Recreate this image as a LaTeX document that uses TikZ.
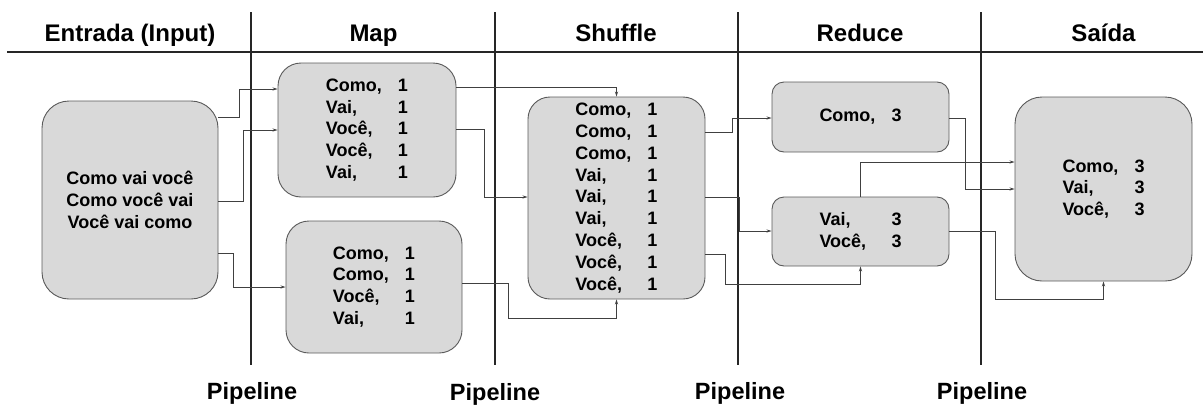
\documentclass[tikz,border=0pt]{standalone}
\usepackage{fontspec}
\setmainfont{Liberation Sans}
\usetikzlibrary{arrows.meta}
\definecolor{boxgray}{HTML}{D9D9D9}
\definecolor{edgegray}{HTML}{5A5A5A}
\newcommand{\kv}[2]{\makebox[72pt][l]{#1}#2}
\tikzset{
  box/.style={draw=edgegray, line width=0.9pt, fill=boxgray, inner sep=0pt,
    font=\fontsize{18}{21.8}\selectfont\bfseries, align=center},
  hdr/.style={anchor=base, inner sep=0pt, font=\fontsize{24}{28}\selectfont\bfseries},
  pipe/.style={anchor=base, inner sep=0pt, font=\fontsize{23.5}{28}\selectfont\bfseries},
  divider/.style={line width=1.6pt, draw=black!85},
  conn/.style={line width=0.8pt, draw=black!75, -{Stealth[length=5pt,width=3.2pt]}}
}
\begin{document}
\begin{tikzpicture}[x=1pt,y=-1pt]
\useasboundingbox (0,0) rectangle (1203,405);

% header rule and dividers
\draw[divider] (7,52) -- (1203,52);
\draw[divider] (251,12) -- (251,365);
\draw[divider] (495,12) -- (495,365);
\draw[divider] (738,12) -- (738,365);
\draw[divider] (981,12) -- (981,365);

% headers
\node[hdr] (h1) at (130,41) {Entrada (Input)};
\node[hdr] (h2) at (373.5,41) {Map};
\node[hdr] (h3) at (616,41) {Shuffle};
\node[hdr] (h4) at (860,41) {Reduce};
\node[hdr] (h5) at (1103.5,41) {Saída};

% boxes
\node[box, rounded corners=27pt, minimum width=176pt, minimum height=198pt] (inp) at (130,200)
  {Como vai você\\Como você vai\\Você vai como};
\node[box, rounded corners=23pt, minimum width=178pt, minimum height=134pt] (m1) at (367,130)
  {\kv{Como,}{1}\\\kv{Vai,}{1}\\\kv{Você,}{1}\\\kv{Você,}{1}\\\kv{Vai,}{1}};
\node[box, rounded corners=23pt, minimum width=176pt, minimum height=132pt] (m2) at (374,287)
  {\kv{Como,}{1}\\\kv{Como,}{1}\\\kv{Você,}{1}\\\kv{Vai,}{1}};
\node[box, rounded corners=22pt, minimum width=177pt, minimum height=202pt] (sh) at (616.5,198)
  {\kv{Como,}{1}\\\kv{Como,}{1}\\\kv{Como,}{1}\\\kv{Vai,}{1}\\\kv{Vai,}{1}\\\kv{Vai,}{1}\\\kv{Você,}{1}\\\kv{Você,}{1}\\\kv{Você,}{1}};
\node[box, rounded corners=12pt, minimum width=177pt, minimum height=70pt] (r1) at (860.5,117)
  {\kv{Como,}{3}};
\node[box, rounded corners=12pt, minimum width=177pt, minimum height=69pt] (r2) at (860.5,231.5)
  {\kv{Vai,}{3}\\\kv{Você,}{3}};
\node[box, rounded corners=27pt, minimum width=177pt, minimum height=184pt] (out) at (1103.5,189)
  {\kv{Como,}{3}\\\kv{Vai,}{3}\\\kv{Você,}{3}};

% connectors: input -> map
\draw[conn] (inp.east |- 0,117) -| (239,89) -- (m1.west |- 0,89);
\draw[conn] (inp.east |- 0,201) -| (243,130) -- (m1.west |- 0,130);
\draw[conn] (inp.east |- 0,253) -| (233,287) -- (m2.west |- 0,287);

% map -> shuffle
\draw[conn] (m1.east |- 0,87) -| (sh.north);
\draw[conn] (m1.east |- 0,129) -| (484,197) -- (sh.west |- 0,197);
\draw[conn] (m2.east |- 0,283) -| (508,318) -| (sh.south);

% shuffle -> reduce
\draw[conn] (sh.east |- 0,132) -| (732,118) -- (r1.west |- 0,118);
\draw[conn] (sh.east |- 0,197) -| (739,231) -- (r2.west |- 0,231);
\draw[conn] (sh.east |- 0,254) -| (725,284) -| (r2.south);

% reduce -> output
\draw[conn] (r1.east |- 0,118) -| (965,189) -- (out.west |- 0,189);
\draw[conn] (r2.north) |- (out.west |- 0,162);
\draw[conn] (r2.east |- 0,231) -| (995,299) -| (out.south);

% pipeline labels
\node[pipe] (p1) at (252,399) {Pipeline};
\node[pipe] (p2) at (495,400.5) {Pipeline};
\node[pipe] (p3) at (740,399) {Pipeline};
\node[pipe] (p4) at (982,399) {Pipeline};
\end{tikzpicture}
\end{document}
